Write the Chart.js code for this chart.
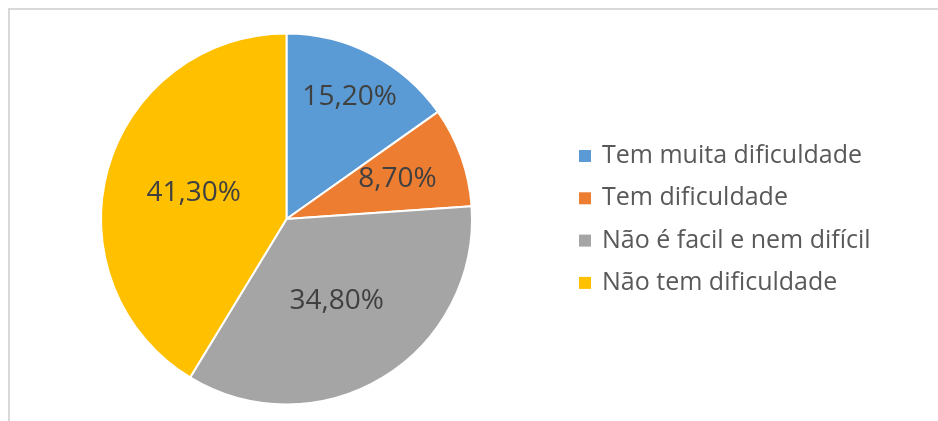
<!DOCTYPE html>
<html>
<head>
<meta charset="utf-8">
<script src="https://cdn.jsdelivr.net/npm/chart.js@4"></script>
<style>
  html, body { margin: 0; padding: 0; background: #fff; }
  #wrap { position: relative; width: 938px; height: 421px; }
  #frame { position: absolute; left: 8px; top: 8px; right: -2px; bottom: -2px;
           border-top: 2px solid #d9d9d9; border-left: 2px solid #d9d9d9; }
  canvas { position: absolute; left: 0; top: 0; }
</style>
</head>
<body>
<div id="wrap">
  <div id="frame"></div>
  <canvas id="pie" width="938" height="421"></canvas>
</div>
<script>
const categories = ['Tem muita dificuldade', 'Tem dificuldade', 'Não é facil e nem difícil', 'Não tem dificuldade'];
const values = [15.2, 8.7, 34.8, 41.3];
const colors = ['#5B9BD5', '#ED7D31', '#A5A5A5', '#FFC000'];

const FONT = '"Open Sans", sans-serif';
// how far out from the centre each slice label sits (fraction of radius)
const labelRadius = [0.74, 0.635, 0.52, 0.52];

const sliceLabels = {
  id: 'sliceLabels',
  afterDatasetsDraw(chart) {
    const ctx = chart.ctx;
    const meta = chart.getDatasetMeta(0);
    ctx.save();
    ctx.font = '28px ' + FONT;
    ctx.fillStyle = '#404040';
    ctx.textAlign = 'center';
    ctx.textBaseline = 'middle';
    meta.data.forEach((arc, i) => {
      const p = arc.getProps(['x', 'y', 'startAngle', 'endAngle', 'outerRadius'], true);
      const a = (p.startAngle + p.endAngle) / 2;
      const r = p.outerRadius * labelRadius[i];
      const txt = values[i].toFixed(2).replace('.', ',') + '%';
      ctx.fillText(txt, p.x + Math.cos(a) * r, p.y + Math.sin(a) * r);
    });
    ctx.restore();
  }
};

const sideLegend = {
  id: 'sideLegend',
  afterDraw(chart) {
    const ctx = chart.ctx;
    ctx.save();
    ctx.font = '25px ' + FONT;
    ctx.textBaseline = 'middle';
    categories.forEach((c, i) => {
      const y = 156 + i * 42.3;
      ctx.fillStyle = colors[i];
      ctx.fillRect(579, y - 6, 12, 12);
      ctx.fillStyle = '#595959';
      ctx.fillText(c, 602, y);
    });
    ctx.restore();
  }
};

new Chart(document.getElementById('pie'), {
  type: 'pie',
  data: {
    labels: categories,
    datasets: [{
      data: values,
      backgroundColor: colors,
      borderColor: '#ffffff',
      borderWidth: 2
    }]
  },
  options: {
    responsive: false,
    animation: false,
    layout: { padding: { left: 100, right: 465, top: 32, bottom: 15 } },
    plugins: {
      legend: { display: false },
      tooltip: { enabled: false }
    }
  },
  plugins: [sliceLabels, sideLegend]
});
</script>
</body>
</html>
